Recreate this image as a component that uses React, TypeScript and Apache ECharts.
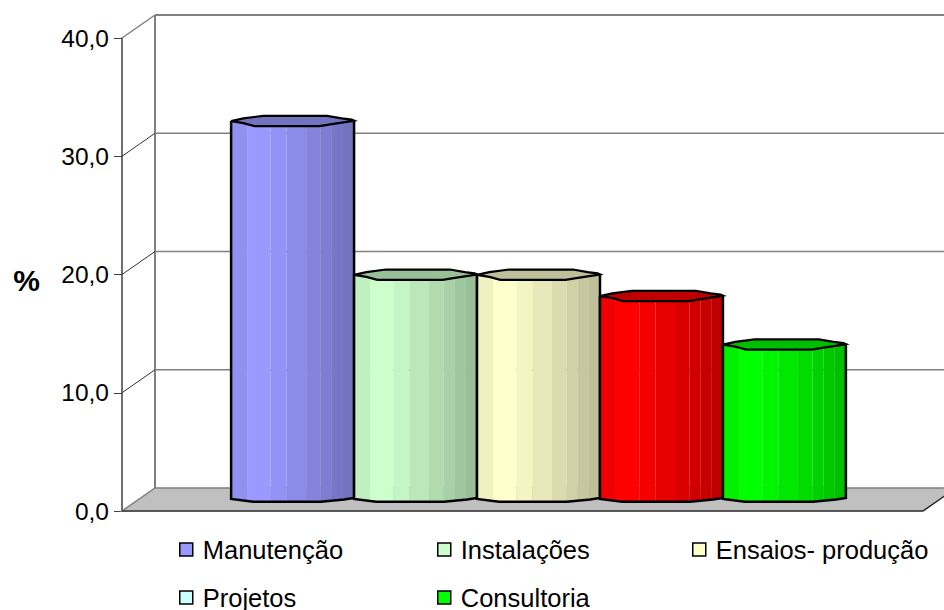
import React, { useEffect, useRef } from "react";
import * as echarts from "echarts";

// Percentages per activity; each activity is one column in the single category.
const seriesNames = ["Manutenção", "Instalações", "Ensaios- produção", "Projetos", "Consultoria"];
const seriesValues = [32, 19, 19, 17.2, 13.1];
const legendColors = ["#9999ff", "#ccffcc", "#ffffcc", "#ccffff", "#00ff00"];
const columnColors = ["#9999ff", "#ccffcc", "#ffffcc", "#ff0000", "#00ff00"];
const yTicks = [0, 10, 20, 30, 40];
const categories = [""];

const DEPTH_X = 33;
const DEPTH_Y = 23;
const COLUMN_SHARE = 0.1535;

// Facets of the faceted cylinder: [start, end, brightness] as fractions of the width.
const facets: [number, number, number][] = [
  [0, 0.13, 0.94], [0.13, 0.32, 1], [0.32, 0.45, 0.96], [0.45, 0.61, 0.91],
  [0.61, 0.73, 0.86], [0.73, 0.82, 0.82], [0.82, 0.91, 0.78], [0.91, 1, 0.75],
];
// Outline profiles: [fraction of the width, vertical offset in px].
const topFront: [number, number][] = [[0, 0], [0.1, 2], [0.19, 5], [0.72, 5], [0.82, 3], [0.98, 0], [1, -0.5]];
const topBack: [number, number][] = [[1, -0.5], [0.98, -1.5], [0.9, -2.7], [0.78, -5.3], [0.26, -5.3], [0.1, -2.7], [0, 0]];
const baseEdge: [number, number][] = [[0, -0.5], [0.18, 2.3], [0.73, 2.3], [0.92, 0], [1, -1.5]];

function shade(hex: string, k: number) {
  const n = parseInt(hex.slice(1), 16);
  const c = [(n >> 16) & 255, (n >> 8) & 255, n & 255].map((v) => Math.round(v * k));
  return `rgb(${c[0]},${c[1]},${c[2]})`;
}

function profileAt(p: [number, number][], f: number) {
  for (let i = 0; i < p.length - 1; i++) {
    if (f >= p[i][0] && f <= p[i + 1][0]) {
      const t = (f - p[i][0]) / (p[i + 1][0] - p[i][0] || 1);
      return p[i][1] + t * (p[i + 1][1] - p[i][1]);
    }
  }
  return 0;
}

function makeColumnRender(index: number) {
  return (params: any, api: any) => {
    const band = api.size([1, 0])[0];
    const w = band * COLUMN_SHARE;
    const cs = params.coordSys;
    const cx = cs.x + cs.width / 2 + DEPTH_X / 2 - 0.5;
    const left = cx + (index - seriesNames.length / 2) * w;
    const topY = api.coord([0, api.value(1)])[1] - DEPTH_Y / 2;
    const baseY = api.coord([0, 0])[1] - DEPTH_Y / 2;
    const color = columnColors[index];
    const X = (f: number) => left + f * w;

    const strips = facets.map(([a, b, k]) => {
      const inner = baseEdge.filter((p) => p[0] > a && p[0] < b).map((p) => p[0]);
      const lower = [a, ...inner, b].map((f) => [X(f), baseY + profileAt(baseEdge, f)]);
      return {
        type: "polygon",
        shape: { points: [[X(a), topY], [X(b), topY], ...lower.reverse()] },
        style: { fill: shade(color, k), stroke: null },
      };
    });
    const rim = [...topFront, ...topBack.slice(1, -1)].map(([f, d]) => [X(f), topY + d]);
    const outline = [
      [X(0), topY],
      ...baseEdge.map(([f, d]) => [X(f), baseY + d]),
      [X(1), topY],
    ];
    return {
      type: "group",
      children: [
        ...strips,
        { type: "polyline", shape: { points: outline }, style: { fill: "none", stroke: "#000", lineWidth: 2.5 } },
        { type: "polygon", shape: { points: rim }, style: { fill: shade(color, 0.75), stroke: "#000", lineWidth: 2.2 } },
      ],
    };
  };
}

// Back wall, side wall and floor, projected from the value axis.
function renderWalls(params: any, api: any) {
  const cs = params.coordSys;
  const v = api.value(0);
  const y = api.coord([0, v])[1];
  const x0 = cs.x;
  const x1 = cs.x + cs.width;
  const children: any[] = [];
  if (v === 0) {
    children.push({
      type: "polygon",
      shape: { points: [[x0, y], [x0 + DEPTH_X, y - DEPTH_Y], [x1 + DEPTH_X, y - DEPTH_Y], [x1, y]] },
      style: { fill: "#c0c0c0", stroke: "#808080", lineWidth: 1.5 },
    });
    children.push({
      type: "line",
      shape: { x1: x0 + DEPTH_X, y1: y - DEPTH_Y, x2: x0 + DEPTH_X, y2: cs.y - DEPTH_Y },
      style: { stroke: "#808080", lineWidth: 2 },
    });
    children.push({
      type: "line",
      shape: { x1: x0, y1: y, x2: x1, y2: y },
      style: { stroke: "#404040", lineWidth: 1.5 },
    });
    children.push({
      type: "line",
      shape: { x1: x1, y1: y, x2: x1 + DEPTH_X, y2: y - DEPTH_Y },
      style: { stroke: "#202020", lineWidth: 1.2 },
    });
  } else {
    const top = v === yTicks[yTicks.length - 1];
    children.push({
      type: "line",
      shape: { x1: x0, y1: y, x2: x0 + DEPTH_X, y2: y - DEPTH_Y },
      style: { stroke: top ? "#808080" : "#333", lineWidth: top ? 1.5 : 1 },
    });
    children.push({
      type: "line",
      shape: { x1: x0 + DEPTH_X, y1: y - DEPTH_Y, x2: x1 + DEPTH_X, y2: y - DEPTH_Y },
      style: { stroke: "#808080", lineWidth: top ? 2 : 1.5 },
    });
  }
  return { type: "group", children };
}

const fontFamily = "'Liberation Sans', Arial, sans-serif";

function legendColumn(names: string[], left: number, top: number) {
  return {
    left,
    top,
    height: 120,
    padding: 0,
    orient: "vertical" as const,
    itemGap: 19,
    itemWidth: 13,
    itemHeight: 13,
    selectedMode: false,
    icon: "rect",
    textStyle: { fontFamily, fontSize: 25.5, color: "#000", padding: [0, 0, 0, 5], lineHeight: 29 },
    data: names.map((name) => ({
      name,
      icon: "rect",
      itemStyle: {
        color: legendColors[seriesNames.indexOf(name)],
        borderColor: "#000",
        borderWidth: 1.5,
      },
    })),
  };
}

export default function App() {
  const ref = useRef<HTMLDivElement>(null);
  useEffect(() => {
    const chart = echarts.init(ref.current!, undefined, { renderer: "svg" });
    chart.setOption({
      animation: false,
      backgroundColor: "#fff",
      grid: { left: 122, right: 21, top: 38, bottom: 99 },
      legend: [
        legendColumn([seriesNames[0], seriesNames[3]], 179, 535),
        legendColumn([seriesNames[1], seriesNames[4]], 437, 535),
        legendColumn([seriesNames[2]], 692, 535),
      ],
      xAxis: {
        type: "category",
        data: categories,
        axisLabel: { show: false },
        axisTick: { show: false },
        axisLine: { show: false },
      },
      yAxis: {
        type: "value",
        min: 0,
        max: 40,
        interval: 10,
        name: "%",
        nameLocation: "middle",
        nameRotate: 0,
        nameGap: 82,
        nameTextStyle: { fontFamily, fontSize: 30, fontWeight: "bold", color: "#000", verticalAlign: "top", lineHeight: 12 },
        axisLine: { show: true, lineStyle: { color: "#404040", width: 1.5 } },
        axisTick: { show: true, length: 8, lineStyle: { color: "#404040", width: 1 } },
        axisLabel: {
          margin: 13,
          fontFamily,
          fontSize: 24.5,
          color: "#000",
          formatter: (v: number) => v.toFixed(1).replace(".", ","),
        },
        splitLine: { show: false },
      },
      series: [
        {
          type: "custom",
          name: "walls",
          z: 1,
          silent: true,
          renderItem: renderWalls,
          data: yTicks.map((v) => [v]),
          encode: { y: 0 },
        },
        ...seriesNames.map((name, i) => ({
          type: "custom",
          name,
          z: 3 + i,
          itemStyle: { color: legendColors[i] },
          renderItem: makeColumnRender(i),
          data: [[0, seriesValues[i]]],
          encode: { x: 0, y: 1 },
        })),
      ],
    });
    return () => chart.dispose();
  }, []);
  return <div ref={ref} style={{ position: "absolute", left: 0, top: 0, width: 944, height: 610 }} />;
}
